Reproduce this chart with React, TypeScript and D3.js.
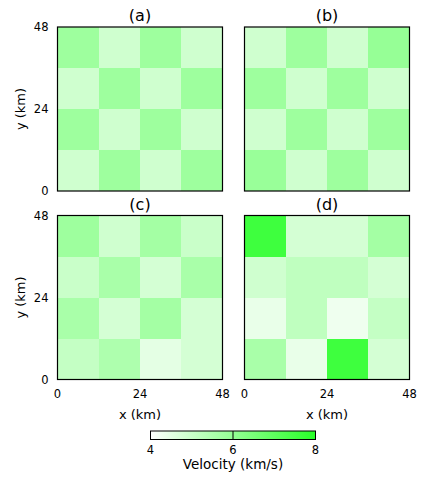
import React from "react";
import * as d3 from "d3";

const panelTitles = ["(a)", "(b)", "(c)", "(d)"];
const cellEdges = [0, 12, 24, 36, 48];
const axisTicks = [0, 24, 48];
const cbTicks = [4, 6, 8];

// rows listed from top (y=48) to bottom (y=0)
const panelA = [
  [5.8, 4.9, 5.8, 4.9],
  [4.9, 5.8, 4.9, 5.8],
  [5.8, 4.9, 5.8, 4.9],
  [4.9, 5.8, 4.9, 5.8],
];
const panelB = [
  [4.9, 5.8, 4.9, 5.95],
  [5.8, 4.9, 5.8, 4.9],
  [4.9, 5.8, 4.9, 5.8],
  [5.9, 4.9, 5.8, 4.9],
];
const panelC = [
  [5.8, 4.9, 5.7, 5.0],
  [5.0, 5.6, 4.8, 5.6],
  [5.6, 4.8, 5.7, 4.8],
  [5.1, 5.5, 4.5, 4.8],
];
const panelD = [
  [7.6, 4.8, 4.8, 5.7],
  [4.9, 5.2, 5.2, 4.8],
  [4.4, 5.2, 4.3, 5.1],
  [5.6, 4.4, 7.6, 4.8],
];
const panels = [panelA, panelB, panelC, panelD];

const FONT = "DejaVu Sans, Verdana, sans-serif";

export default function App() {
  const color = d3.scaleLinear<string>().domain([4, 8]).range(["#ffffff", "#28ff28"]).interpolate(d3.interpolateRgb);
  const W = 165;
  const H = 164;
  const lefts = [57.5, 244.5];
  const tops = [27, 215.5];

  const cbX = d3.scaleLinear().domain([4, 8]).range([150.5, 315.5]);
  const cbY = 431;
  const cbH = 8.5;

  return (
    <svg width={430} height={485} style={{ position: "absolute", left: 0, top: 0 }} fontFamily={FONT}>
      <rect x={0} y={0} width={430} height={485} fill="#ffffff" />
      {panels.map((grid, pi) => {
        const col = pi % 2;
        const row = Math.floor(pi / 2);
        const x = d3.scaleLinear().domain([0, 48]).range([lefts[col], lefts[col] + W]);
        const y = d3.scaleLinear().domain([0, 48]).range([tops[row] + H, tops[row]]);
        return (
          <g key={pi}>
            {grid.map((r, ri) =>
              r.map((v, ci) => (
                <rect
                  key={ri + "-" + ci}
                  x={x(cellEdges[ci])}
                  y={y(cellEdges[4 - ri])}
                  width={x(cellEdges[ci + 1]) - x(cellEdges[ci])}
                  height={y(cellEdges[3 - ri]) - y(cellEdges[4 - ri])}
                  fill={color(v)}
                  shapeRendering="crispEdges"
                />
              ))
            )}
            <rect x={x(0)} y={y(48)} width={W} height={H} fill="none" stroke="#000" strokeWidth={1.2} />
            <text x={(x(0) + x(48)) / 2} y={y(48) - 6} textAnchor="middle" fontSize={16} fill="#000">
              {panelTitles[pi]}
            </text>
            {col === 0 &&
              axisTicks.map((t) => (
                <text key={t} x={x(0) - 9} y={y(t) + 4} textAnchor="end" fontSize={11.5} fill="#000">
                  {t}
                </text>
              ))}
            {col === 0 && (
              <text
                transform={`translate(${x(0) - 33},${(y(0) + y(48)) / 2}) rotate(-90)`}
                textAnchor="middle"
                fontSize={13}
                fill="#000"
              >
                y (km)
              </text>
            )}
            {row === 1 &&
              axisTicks.map((t) => (
                <text key={t} x={x(t)} y={y(0) + 18} textAnchor="middle" fontSize={11.5} fill="#000">
                  {t}
                </text>
              ))}
            {row === 1 && (
              <text x={(x(0) + x(48)) / 2} y={y(0) + 39} textAnchor="middle" fontSize={13} fill="#000">
                x (km)
              </text>
            )}
          </g>
        );
      })}
      <defs>
        <linearGradient id="cbgrad" x1="0" x2="1" y1="0" y2="0">
          {d3.range(0, 1.0001, 0.25).map((t) => (
            <stop key={t} offset={t} stopColor={color(4 + t * 4)} />
          ))}
        </linearGradient>
      </defs>
      <rect x={cbX(4)} y={cbY} width={cbX(8) - cbX(4)} height={cbH} fill="url(#cbgrad)" stroke="#000" strokeWidth={1} />
      {cbTicks.map((t) => (
        <g key={t}>
          <line x1={cbX(t)} x2={cbX(t)} y1={cbY} y2={cbY + cbH} stroke="#000" strokeWidth={1} />
          <text x={cbX(t)} y={cbY + 23} textAnchor="middle" fontSize={11.5} fill="#000">
            {t}
          </text>
        </g>
      ))}
      <text x={(cbX(4) + cbX(8)) / 2} y={cbY + 38} textAnchor="middle" fontSize={13.5} fill="#000">
        Velocity (km/s)
      </text>
    </svg>
  );
}
